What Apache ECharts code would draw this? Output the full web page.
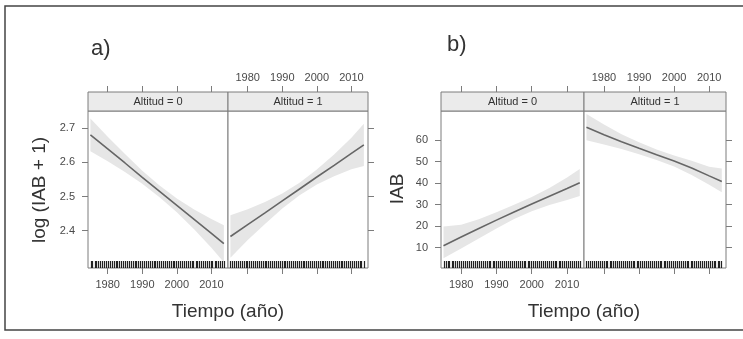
<!DOCTYPE html>
<html>
<head>
<meta charset="utf-8">
<script src="https://cdn.jsdelivr.net/npm/echarts@6/dist/echarts.min.js"></script>
<style>
  html, body { margin: 0; padding: 0; background: #fff; }
  #chart { width: 743px; height: 339px; }
</style>
</head>
<body>
<div id="chart"></div>
<script>
// años donde se evalúa el ajuste
const yearsFit = [1975, 1980, 1985, 1990, 1995, 2000, 2005, 2010, 2013.6]

// a) log(IAB + 1)
const fitA0 = [2.680, 2.639, 2.598, 2.556, 2.515, 2.474, 2.433, 2.392, 2.362]
const loA0 = [2.632, 2.603, 2.572, 2.537, 2.498, 2.454, 2.404, 2.350, 2.308]
const hiA0 = [2.728, 2.675, 2.624, 2.575, 2.532, 2.494, 2.462, 2.434, 2.416]
const fitA1 = [2.383, 2.418, 2.452, 2.487, 2.522, 2.557, 2.591, 2.626, 2.651]
const loA1 = [2.321, 2.373, 2.420, 2.465, 2.504, 2.535, 2.559, 2.580, 2.589]
const hiA1 = [2.445, 2.463, 2.484, 2.509, 2.540, 2.579, 2.623, 2.672, 2.713]

// b) IAB
const fitB0 = [10.9, 14.9, 18.9, 22.8, 26.6, 30.3, 33.9, 37.5, 40.2]
const loB0 = [5.0, 9.6, 14.2, 18.9, 23.3, 26.9, 29.8, 32.2, 34.0]
const hiB0 = [19.8, 20.6, 23.2, 26.4, 29.9, 33.6, 37.8, 42.6, 46.6]
const fitB1 = [66.0, 62.5, 59.3, 56.2, 53.2, 50.3, 47.1, 43.4, 40.8]
const loB1 = [60.0, 58.0, 55.9, 53.5, 50.8, 47.8, 43.8, 39.3, 35.8]
const hiB1 = [72.2, 67.3, 62.8, 59.0, 55.7, 52.9, 50.4, 47.6, 46.8]

// rug: fechas de observación
const rugAlt0 = [1975.1, 1975.6, 1976.2, 1976.7, 1977.3, 1977.8, 1978.4, 1978.9, 1979.5, 1980.1,
  1980.6, 1981.2, 1981.7, 1982.3, 1982.8, 1983.4, 1983.9, 1984.5, 1985.0, 1985.6,
  1986.1, 1986.7, 1987.2, 1987.8, 1988.3, 1988.9, 1989.4, 1990.0, 1990.5, 1991.1,
  1991.6, 1992.2, 1992.7, 1993.3, 1993.8, 1994.4, 1994.9, 1995.5, 1996.0, 1996.6,
  1997.1, 1997.7, 1998.2, 1998.8, 1999.3, 1999.9, 2000.4, 2001.0, 2001.5, 2002.1,
  2002.6, 2003.2, 2003.7, 2004.3, 2004.8, 2005.4, 2005.9, 2006.5, 2007.0, 2007.6,
  2008.1, 2008.7, 2009.2, 2009.8, 2010.3, 2010.9, 2011.4, 2012.0, 2012.5, 2013.1, 2013.6]
const rugAlt1 = [1975.0, 1975.5, 1976.1, 1976.6, 1977.2, 1977.7, 1978.3, 1978.8, 1979.4, 1979.9,
  1980.5, 1981.0, 1981.6, 1982.1, 1982.7, 1983.2, 1983.8, 1984.3, 1984.9, 1985.4,
  1986.0, 1986.5, 1987.1, 1987.6, 1988.2, 1988.7, 1989.3, 1989.8, 1990.4, 1990.9,
  1991.5, 1992.0, 1992.6, 1993.1, 1993.7, 1994.2, 1994.8, 1995.3, 1995.9, 1996.4,
  1997.0, 1997.5, 1998.1, 1998.6, 1999.2, 1999.7, 2000.3, 2000.8, 2001.4, 2001.9,
  2002.5, 2003.0, 2003.6, 2004.1, 2004.7, 2005.2, 2005.8, 2006.3, 2006.9, 2007.4,
  2008.0, 2008.5, 2009.1, 2009.6, 2010.2, 2010.7, 2011.3, 2011.8, 2012.4, 2012.9, 2013.5]

const tickYears = [1980, 1990, 2000, 2010]
const ticksA = [2.4, 2.5, 2.6, 2.7]
const ticksB = [10, 20, 30, 40, 50, 60]
const facetLabels = ['Altitud = 0', 'Altitud = 1']

const FONT = "'Liberation Sans', Arial, sans-serif"
const LINE = '#666'
const BORDER = '#7c7c7c'
const TEXT = '#4a4a4a'
const X_MIN = 1974.3
const X_MAX = 2014.8
const TOP = 111
const BOTTOM = 268
const STRIP = 19

const facets = [
  { left: 88, width: 140, yMin: 2.291, yMax: 2.75, ticks: ticksA, fit: fitA0, lo: loA0, hi: hiA0, rug: rugAlt0, first: true },
  { left: 228, width: 140, yMin: 2.291, yMax: 2.75, ticks: ticksA, fit: fitA1, lo: loA1, hi: hiA1, rug: rugAlt1, first: false },
  { left: 441, width: 143, yMin: 0.5, yMax: 73.6, ticks: ticksB, fit: fitB0, lo: loB0, hi: hiB0, rug: rugAlt0, first: true },
  { left: 584, width: 142, yMin: 0.5, yMax: 73.6, ticks: ticksB, fit: fitB1, lo: loB1, hi: hiB1, rug: rugAlt1, first: false }
]

const labelStyle = { color: TEXT, fontSize: 11, fontFamily: FONT, formatter: v => String(v) }

const grid = []
const xAxis = []
const yAxis = []
const series = []
const graphic = []

facets.forEach((f, i) => {
  grid.push({
    left: f.left, top: TOP, width: f.width, height: BOTTOM - TOP,
    show: true, borderColor: BORDER, borderWidth: 1, backgroundColor: '#fff'
  })
  // eje inferior (etiquetas solo en la primera columna)
  xAxis.push({
    type: 'value', gridIndex: i, position: 'bottom', min: X_MIN, max: X_MAX,
    axisLine: { show: false }, splitLine: { show: false },
    axisTick: { show: true, customValues: tickYears, length: 6, lineStyle: { color: BORDER } },
    axisLabel: { show: f.first, customValues: tickYears, margin: 11, ...labelStyle }
  })
  // eje superior, por encima de la tira
  xAxis.push({
    type: 'value', gridIndex: i, position: 'top', offset: STRIP, min: X_MIN, max: X_MAX,
    axisLine: { show: false }, splitLine: { show: false },
    axisTick: { show: true, customValues: tickYears, length: 6, lineStyle: { color: BORDER } },
    axisLabel: { show: !f.first, customValues: tickYears, margin: 9, ...labelStyle }
  })
  yAxis.push({
    type: 'value', gridIndex: i, position: f.first ? 'left' : 'right', min: f.yMin, max: f.yMax,
    axisLine: { show: false }, splitLine: { show: false },
    axisTick: { show: true, customValues: f.ticks, length: 6, lineStyle: { color: BORDER } },
    axisLabel: { show: f.first, customValues: f.ticks, margin: 13, ...labelStyle }
  })

  const xi = i * 2
  // banda de confianza
  series.push({
    type: 'custom', xAxisIndex: xi, yAxisIndex: i, silent: true, clip: true,
    data: yearsFit.map((yr, k) => [yr, f.lo[k], f.hi[k]]),
    encode: { x: 0, y: [1, 2] },
    renderItem: (params, api) => {
      if (params.dataIndex !== 0) return null
      const upper = yearsFit.map((yr, k) => api.coord([yr, f.hi[k]]))
      const lower = yearsFit.map((yr, k) => api.coord([yr, f.lo[k]])).reverse()
      return {
        type: 'polygon',
        shape: { points: upper.concat(lower) },
        style: { fill: '#e6e6e6' }
      }
    }
  })
  series.push({
    type: 'line', xAxisIndex: xi, yAxisIndex: i, symbol: 'none', silent: true, z: 3,
    lineStyle: { color: LINE, width: 1.6 }, data: yearsFit.map((yr, k) => [yr, f.fit[k]])
  })
  // rug
  series.push({
    type: 'custom', xAxisIndex: xi, yAxisIndex: i, silent: true,
    data: f.rug.map(yr => [yr, f.yMin]),
    renderItem: (params, api) => {
      const p = api.coord([api.value(0), api.value(1)])
      const x = Math.round(p[0]) + 0.5
      return {
        type: 'line',
        shape: { x1: x, y1: p[1], x2: x, y2: p[1] - 7 },
        style: { stroke: '#222', lineWidth: 1.2 }
      }
    }
  })

  // tira "Altitud = ..."
  graphic.push({
    type: 'rect', shape: { x: f.left, y: TOP - STRIP, width: f.width, height: STRIP },
    style: { fill: '#ebebeb', stroke: BORDER, lineWidth: 1 }, z: 10
  })
  graphic.push({
    type: 'text', x: f.left + f.width / 2, y: TOP - STRIP / 2, z: 11,
    style: {
      text: facetLabels[f.first ? 0 : 1], fill: '#333', font: '11px ' + FONT,
      align: 'center', verticalAlign: 'middle'
    }
  })
})

const titleFont = '19px ' + FONT
graphic.push(
  { type: 'rect', shape: { x: 5, y: 6, width: 760, height: 324 }, style: { fill: 'none', stroke: '#444', lineWidth: 1.5 }, z: 20 },
  { type: 'text', x: 91, y: 49, style: { text: 'a)', fill: '#333', font: '22px ' + FONT, verticalAlign: 'middle' } },
  { type: 'text', x: 447, y: 45, style: { text: 'b)', fill: '#333', font: '22px ' + FONT, verticalAlign: 'middle' } },
  { type: 'text', x: 40, y: 190, rotation: Math.PI / 2, style: { text: 'log (IAB + 1)', fill: '#333', font: titleFont, align: 'center', verticalAlign: 'middle' } },
  { type: 'text', x: 398, y: 189, rotation: Math.PI / 2, style: { text: 'IAB', fill: '#333', font: titleFont, align: 'center', verticalAlign: 'middle' } },
  { type: 'text', x: 228, y: 312, style: { text: 'Tiempo (año)', fill: '#333', font: titleFont, align: 'center', verticalAlign: 'middle' } },
  { type: 'text', x: 584, y: 312, style: { text: 'Tiempo (año)', fill: '#333', font: titleFont, align: 'center', verticalAlign: 'middle' } }
)

const chart = echarts.init(document.getElementById('chart'))
chart.setOption({
  animation: false,
  backgroundColor: '#fff',
  grid,
  xAxis,
  yAxis,
  series,
  graphic
})
</script>
</body>
</html>
